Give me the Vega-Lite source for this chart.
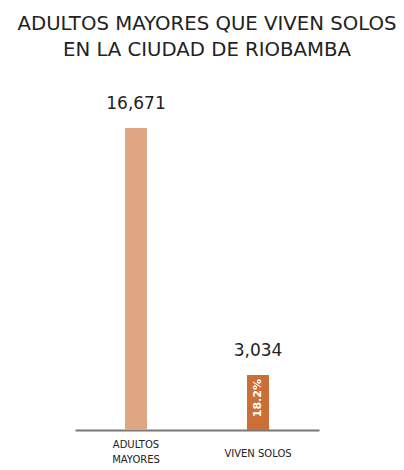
{
  "$schema": "https://vega.github.io/schema/vega-lite/v6.json",
  "width": 244,
  "height": 302,
  "autosize": "none",
  "padding": {"left": 75, "top": 128, "right": 85, "bottom": 40},
  "background": "white",
  "title": {
    "text": ["ADULTOS MAYORES QUE VIVEN SOLOS", "EN LA CIUDAD DE RIOBAMBA"],
    "font": "DejaVu Sans",
    "fontSize": 19.7,
    "fontWeight": "normal",
    "color": "#222222",
    "anchor": "middle",
    "lineHeight": 26,
    "offset": 35,
    "dx": 10
  },
  "data": {
    "values": [
      {"cat": "ADULTOS MAYORES", "value": 16671, "label": "16,671", "pct": null},
      {"cat": "VIVEN SOLOS", "value": 3034, "label": "3,034", "pct": "18.2%"}
    ]
  },
  "encoding": {
    "x": {
      "field": "cat",
      "type": "nominal",
      "sort": null,
      "scale": {"paddingInner": 0, "paddingOuter": 0},
      "axis": {
        "title": null,
        "labelAngle": 0,
        "ticks": false,
        "domainColor": "#777777",
        "domainWidth": 2,
        "labelFont": "DejaVu Sans",
        "labelFontSize": 10,
        "labelColor": "#222222",
        "labelBaseline": "middle",
        "labelPadding": {"condition": {"test": "datum.value == 'VIVEN SOLOS'", "value": 23}, "value": 14},
        "labelLineHeight": 15,
        "labelExpr": "datum.label == 'ADULTOS MAYORES' ? ['ADULTOS', 'MAYORES'] : datum.label"
      }
    },
    "y": {
      "field": "value",
      "type": "quantitative",
      "scale": {"domain": [0, 16671], "nice": false},
      "axis": null
    }
  },
  "layer": [
    {
      "mark": {"type": "bar", "width": 22},
      "encoding": {
        "color": {
          "field": "cat",
          "type": "nominal",
          "scale": {"domain": ["ADULTOS MAYORES", "VIVEN SOLOS"], "range": ["#DFA683", "#C96F37"]},
          "legend": null
        }
      }
    },
    {
      "mark": {"type": "text", "baseline": "bottom", "dy": -15, "font": "DejaVu Sans", "fontSize": 17, "color": "#222222"},
      "encoding": {"text": {"field": "label"}}
    },
    {
      "transform": [{"filter": "datum.pct != null"}],
      "mark": {"type": "text", "angle": 270, "align": "right", "baseline": "middle", "dx": -4, "font": "DejaVu Sans", "fontSize": 11, "fontWeight": "bold", "color": "white"},
      "encoding": {"text": {"field": "pct"}}
    }
  ],
  "config": {"view": {"stroke": null}}
}
